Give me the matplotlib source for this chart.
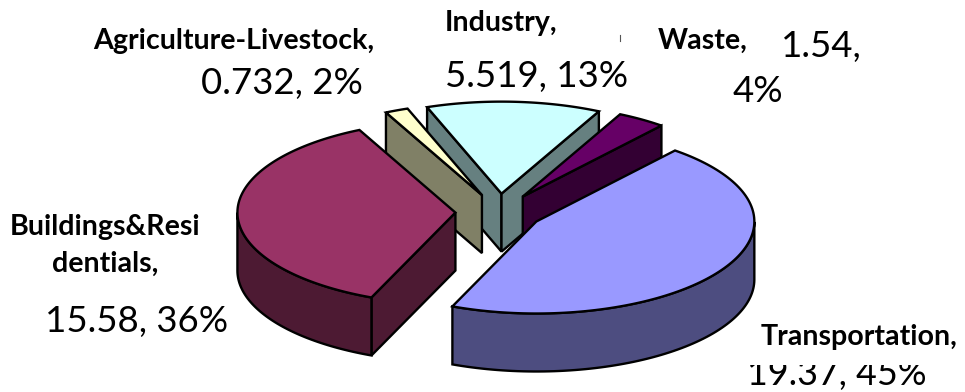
import numpy as np
import matplotlib
matplotlib.use('Agg')
import matplotlib.pyplot as plt
from matplotlib.patches import Polygon, Rectangle

# emissions by sector, clockwise from the upper right of the pie
sectors = ['Transportation', 'Buildings&Residentials', 'Agriculture-Livestock', 'Industry', 'Waste']
values = [19.37, 15.58, 0.732, 5.519, 1.54]
top_colors = ['#9999FF', '#993366', '#FFFFCC', '#CCFFFF', '#660066']
side_colors = ['#4D4D80', '#4D1A33', '#808066', '#668080', '#330033']
draw_order = [3, 4, 2, 1, 0]

cx, cy = 499, 212
rx, ry = 218, 92
depth = 58
explode = 0.2
start_angle = 50.5
font = 'Lato'
edge = dict(ec='black', lw=1.7, joinstyle='miter')


def ellipse_pt(c, angle):
    return c + np.array([rx * np.cos(angle), -ry * np.sin(angle)])


def draw_slice(ax, apex, a0, a1, top, side):
    # a0 > a1, the slice runs clockwise on screen
    arc_a = np.linspace(a0, a1, 120)
    arc = np.array([ellipse_pt(apex, a) for a in arc_a])
    down = np.array([0, depth])

    # flat walls, only where they face the viewer
    for edge_a, sign in ((a0, -1), (a1, 1)):
        p = ellipse_pt(apex, edge_a)
        if sign * (p - apex)[0] > 0:
            ax.add_patch(Polygon([apex, p, p + down, apex + down], closed=True, fc=side, **edge))

    # outer wall on the lower half of the ellipse
    low = arc[np.sin(arc_a) < 0]
    if len(low) > 1:
        ax.add_patch(Polygon(np.vstack([low, (low + down)[::-1]]), closed=True, fc=side, **edge))

    ax.add_patch(Polygon(np.vstack([apex, arc]), closed=True, fc=top, **edge))


fig = plt.figure(figsize=(9.65, 3.92), dpi=100)
ax = fig.add_axes([0, 0, 1, 1])
ax.set_xlim(0, 965)
ax.set_ylim(392, 0)
ax.axis('off')

shares = np.array(values) / sum(values)
ends = np.radians(start_angle) - 2 * np.pi * np.cumsum(shares)
starts = np.concatenate([[np.radians(start_angle)], ends[:-1]])

for i in draw_order:
    mid = (starts[i] + ends[i]) / 2
    apex = np.array([cx + explode * rx * np.cos(mid), cy - explode * ry * np.sin(mid)])
    draw_slice(ax, apex, starts[i], ends[i], top_colors[i], side_colors[i])

# value labels
val = dict(fontsize=26.4, family=font, va='baseline', ha='left')
ax.text(201, 94, '0.732, 2%', **val)
ax.text(445, 87, '5.519, 13%', **val)
ax.text(781, 57, '1.54,', **val)
ax.text(733, 102, '4%', **val)
ax.text(45, 332, '15.58, 36%', **val)
ax.text(747, 385, '19.37, 45%', fontsize=25.8, family=font, va='baseline', ha='left')

# the name label box sits over the value line below it
ax.add_patch(Rectangle((740, 322), 225, 43, fc='white', ec='none', zorder=5))

# sector names
bold = dict(fontsize=20.6, family=font, fontweight='bold', va='baseline', ha='left', zorder=6)
ax.text(93, 49, 'Agriculture-Livestock,', **bold)
ax.text(445, 31, 'Industry,', **bold)
ax.text(658, 49, 'Waste,', **bold)
ax.text(10, 235, 'Buildings&Resi', **bold)
ax.text(52, 272, 'dentials,', **bold)
ax.text(761, 345, 'Transportation,', **bold)

# stray tick left between the Industry and Waste labels
ax.plot([620, 620], [35, 41], color='#555555', lw=0.8)

fig.savefig('out.png', dpi=100)
